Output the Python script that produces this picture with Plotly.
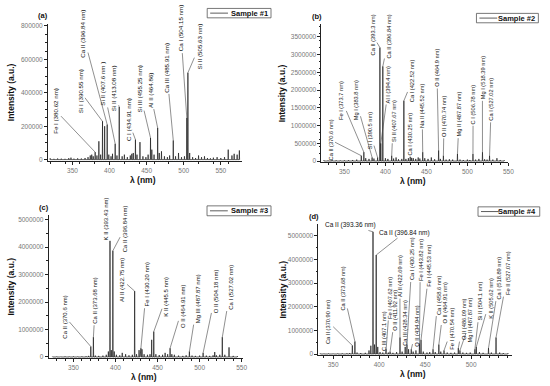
import plotly.graph_objects as go

W, H = 550, 386

# ---------------- data: peak wavelengths (nm) and intensities (a.u.) ----------------
wl_1 = [320, 325, 330, 335, 340, 345, 348, 352, 357, 362, 367, 371, 374, 376, 378, 380.62, 383, 385.6, 388,
        390.55, 393.4, 396.84, 399, 402, 404, 407.6, 410, 413.08, 417, 420, 424, 428, 430, 432, 434.91, 437,
        441, 445, 449, 452, 455.25, 457, 460, 464.86, 467, 470, 474, 478, 481, 485.91, 489, 493, 497, 501,
        504.15, 505.63, 508, 512, 516, 520, 524, 528, 532, 536, 540, 545, 550, 555, 560, 565, 568, 572, 575]
int_1 = [8000, 5000, 7000, 6000, 5000, 9000, 12000, 6000, 8000, 7000, 10000, 15000, 25000, 30000, 20000, 45000,
         25000, 110000, 30000, 230000, 200000, 210000, 30000, 20000, 35000, 95000, 25000, 315000, 20000, 30000,
         15000, 25000, 35000, 40000, 120000, 30000, 105000, 20000, 15000, 30000, 130000, 60000, 30000, 190000,
         40000, 50000, 20000, 15000, 25000, 115000, 20000, 40000, 15000, 20000, 250000, 520000, 40000, 15000,
         10000, 25000, 15000, 20000, 10000, 8000, 12000, 15000, 10000, 15000, 60000, 25000, 35000, 30000, 55000]

wl_2 = [325, 330, 335, 340, 345, 350, 355, 360, 365, 370.6, 373.7, 376, 380, 383.8, 386, 390.5, 393.3, 394.4,
        396.84, 400, 403, 407.67, 410, 413, 416, 420, 422.52, 425, 428, 430.25, 432, 434, 437, 440, 442, 445.52,
        448, 452, 456, 460, 464.9, 467, 470.74, 474, 478, 482, 487.87, 491, 495, 500, 503, 506.78, 510, 514,
        518.39, 521, 524, 527.02, 531, 536, 540, 545]
int_2 = [20000, 15000, 25000, 20000, 15000, 20000, 25000, 30000, 40000, 150000, 250000, 80000, 60000, 100000,
         70000, 100000, 3200000, 500000, 2670000, 80000, 60000, 150000, 70000, 100000, 50000, 60000, 1700000,
         60000, 80000, 120000, 90000, 80000, 60000, 100000, 70000, 250000, 80000, 60000, 100000, 50000, 300000,
         60000, 150000, 40000, 50000, 40000, 200000, 40000, 30000, 40000, 30000, 200000, 40000, 60000, 250000,
         50000, 40000, 150000, 40000, 80000, 30000, 20000]

wl_3 = [325, 330, 335, 340, 345, 350, 355, 360, 365, 368, 370.6, 373.68, 376, 380, 385, 389, 391.5, 393.43, 395,
        396.84, 398.5, 401, 405, 408, 412, 416, 420, 422.75, 425, 428, 429.5, 430.2, 431.5, 434, 438, 441, 443,
        445.5, 448, 452, 456, 459, 462, 464.91, 467, 470, 475, 480, 484, 487.87, 491, 495, 500, 504.18, 508,
        512, 516, 518, 520, 524, 527.02, 530, 535, 540, 545]
int_3 = [10000, 15000, 10000, 20000, 15000, 20000, 15000, 20000, 25000, 40000, 380000, 720000, 50000, 40000,
         50000, 80000, 200000, 4230000, 250000, 3870000, 200000, 80000, 60000, 150000, 100000, 60000, 80000,
         2400000, 100000, 250000, 300000, 320000, 280000, 100000, 80000, 100000, 625000, 925000, 100000, 70000,
         80000, 150000, 100000, 320000, 100000, 80000, 50000, 40000, 60000, 200000, 50000, 40000, 50000, 150000,
         50000, 40000, 60000, 180000, 60000, 80000, 720000, 80000, 350000, 40000, 30000]

wl_4 = [336, 340, 345, 350, 355, 360, 365, 368, 370.9, 373.68, 376, 380, 385, 389, 391, 393.36, 395, 396.84,
        398.5, 401, 404, 407.1, 407.62, 410, 411.92, 415, 419, 422.69, 425, 428.34, 430.25, 432, 434.94, 437,
        440, 443.82, 445.53, 448, 452, 455, 458.6, 461, 464.91, 467, 470.54, 474, 478, 482, 486.09, 487.87,
        491, 495, 499, 504.1, 505.62, 509, 513, 518.89, 522, 527.07, 531, 535, 540]
int_4 = [20000, 15000, 20000, 15000, 20000, 25000, 30000, 40000, 360000, 530000, 60000, 40000, 50000, 150000,
         350000, 5170000, 400000, 4190000, 300000, 80000, 60000, 120000, 200000, 60000, 100000, 50000, 80000,
         700000, 100000, 300000, 400000, 200000, 200000, 100000, 150000, 450000, 600000, 100000, 60000, 80000,
         200000, 80000, 400000, 100000, 150000, 60000, 50000, 60000, 250000, 150000, 60000, 50000, 60000,
         200000, 300000, 80000, 50000, 250000, 60000, 700000, 60000, 40000, 30000]

series_names = ["Sample #1", "Sample #2", "Sample #3", "Sample #4"]
panel_tags = ["(a)", "(b)", "(c)", "(d)"]

x_ticks = [[350, 400, 450, 500, 550], [350, 400, 450, 500, 550], [350, 400, 450, 500, 550], [350, 400, 450, 500]]
y_ticks = [[0, 200000, 400000, 600000, 800000],
           [0, 500000, 1000000, 1500000, 2000000, 2500000, 3000000, 3500000],
           [0, 1000000, 2000000, 3000000, 4000000, 5000000],
           [0, 1000000, 2000000, 3000000, 4000000, 5000000]]

# labels: text, target wavelength, target intensity, label-centre wavelength, label-centre intensity
labels_1 = [
    ("Fe I (380.62 nm)", 380.62, 45000, 327.8, 292000),
    ("Si I (390.55 nm)", 390.55, 229000, 360.2, 410000),
    ("Ca II (396.84 nm)", 396.84, 210000, 364.2, 753000),
    ("Si II (407.6 nm )", 407.6, 95000, 390.9, 453000),
    ("Si II (413.08 nm)", 413.08, 315000, 405.6, 426000),
    ("C I (434.91 nm)", 434.91, 120000, 424.7, 242000),
    ("Si III (455.25 nm)", 455.25, 130000, 439.8, 420000),
    ("Al II (464.86)", 464.86, 190000, 454.4, 416000),
    ("Ca III (485.91 nm)", 485.91, 115000, 476.7, 552000),
    ("Ca I (504.15 nm)", 504.15, 250000, 495.8, 784000),
    ("Si II (505.63 nm)", 505.63, 520000, 521.1, 680000),
]
labels_2 = [
    ("Ca II (370.6 nm)", 370.6, 150000, 333.1, 596000),
    ("Fe I (373.7 nm)", 373.7, 250000, 346.8, 1713000),
    ("Mg I (383.8 nm)", 383.8, 100000, 364.1, 1713000),
    ("Si I (390.5 nm)", 390.5, 100000, 380.6, 857000),
    ("Ca II (393.3 nm)", 393.3, 3200000, 384.2, 3557000),
    ("Ca II (396.84 nm)", 396.84, 2670000, 404.3, 3510000),
    ("Al I (394.4 nm)", 394.4, 500000, 404.3, 2160000),
    ("Si II (407.67 nm)", 407.67, 150000, 409.6, 1136000),
    ("Ca I (422.52 nm)", 422.52, 1700000, 432.5, 2253000),
    ("Ca I (430.25 nm)", 430.25, 120000, 430.6, 763000),
    ("Na II (445.52 nm)", 445.52, 250000, 444.7, 1555000),
    ("O II (464.9 nm)", 464.9, 300000, 462.8, 2625000),
    ("O II (470.74 nm)", 470.74, 150000, 471.6, 1276000),
    ("Mg II (487.87 nm)", 487.87, 200000, 490.1, 1322000),
    ("C I (506.78 nm)", 506.78, 200000, 507.0, 1601000),
    ("Mg I (518.39 nm)", 518.39, 250000, 518.3, 2346000),
    ("Ca I (527.02 nm)", 527.02, 150000, 529.2, 1741000),
]
labels_3 = [
    ("Ca II (370.6 nm)", 370.6, 380000, 339.8, 1466000),
    ("Ca II (373.68 nm)", 373.68, 720000, 376.3, 2067000),
    ("K II (393.43 nm)", 393.43, 4230000, 388.8, 5012000),
    ("Ca II (396.84 nm)", 396.84, 3870000, 410.8, 4675000),
    ("Al II (422.75 nm)", 422.75, 2400000, 408.4, 2788000),
    ("Fe I (430.20 nm)", 430.2, 320000, 437.1, 2632000),
    ("K II (445.5 nm)", 445.5, 925000, 460.6, 2211000),
    ("O II (464.91 nm)", 464.91, 320000, 480.2, 1851000),
    ("Mg III (487.87 nm)", 487.87, 200000, 497.8, 2127000),
    ("O II (504.18 nm)", 504.18, 150000, 519.4, 2392000),
    ("Ca I (527.02 nm)", 527.02, 720000, 537.1, 2548000),
]
labels_4 = [
    ("Ca II (393.36 nm)", 393.36, 5170000, 368.5, 5461000),
    ("Ca II (396.84 nm)", 396.84, 4190000, 427.6, 5140000),
    ("Ca II (370.90 nm)", 370.9, 360000, 345.2, 1341000),
    ("Ca II (373.68 nm)", 373.68, 530000, 360.6, 2765000),
    ("C III (407.1 nm)", 407.1, 120000, 405.4, 978000),
    ("Fe I (407.62 nm)", 407.62, 200000, 411.8, 2374000),
    ("O II (411.92 nm)", 411.92, 100000, 417.9, 1857000),
    ("Al II (422.69 nm)", 422.69, 700000, 422.6, 3296000),
    ("Ca III (428.34 nm)", 428.34, 300000, 428.7, 1299000),
    ("Ca I (430.25 nm)", 430.25, 400000, 435.8, 4022000),
    ("O II (434.94 nm)", 434.94, 200000, 441.2, 1201000),
    ("Fe I (443.82 nm)", 443.82, 450000, 444.8, 3994000),
    ("Fe I (445.53 nm)", 445.53, 600000, 454.8, 3715000),
    ("Ca I (458.6 nm)", 458.6, 200000, 464.5, 2514000),
    ("O II (464.91 nm)", 464.91, 400000, 470.6, 2179000),
    ("Fe I (470.54 nm)", 470.54, 150000, 478.9, 1061000),
    ("O II (486.09 nm)", 486.09, 250000, 492.1, 1480000),
    ("Mg II (487.87 nm)", 487.87, 150000, 499.3, 1438000),
    ("Si II (504.1 nm)", 504.1, 200000, 510.0, 2235000),
    ("K II (505.62 nm)", 505.62, 300000, 520.8, 2346000),
    ("Ca I (518.89 nm)", 518.89, 250000, 530.8, 3212000),
    ("Fe II (527.07 nm)", 527.07, 700000, 539.8, 3422000),
]
horizontal_4 = {"Ca II (393.36 nm)", "Ca II (396.84 nm)"}

# ---------------- layout geometry (pixels) ----------------
plot_px = [  # left, right, top, bottom
    (48.5, 245, 22, 160.5),
    (325, 514, 22.7, 162),
    (49.3, 246, 215.7, 359.7),
    (322, 518, 224.7, 356.7),
]
x_ranges = [[317, 579], [322, 550], [320.6, 552], [334.1, 544.8]]
y_ranges = [[-7000, 813000], [-36000, 3852000], [-36000, 5155000], [-42000, 5486000]]
legend_px = [  # box l, r, t, b
    (209.5, 274, 6.5, 16),
    (481.7, 544.3, 11.5, 21),
    (209.3, 274, 206, 216),
    (483.3, 545.7, 207, 216.5),
]
label_font = [6.2, 5.7, 6.0, 5.7]

FONT = "Liberation Sans, Arial, sans-serif"


def px_x(v):
    return v / W


def px_y(v):
    return 1 - v / H


def sticks(wl, inten):
    xs, ys = [], []
    for w, v in sorted(zip(wl, inten)):
        xs += [w - 0.3, w, w + 0.3]
        ys += [0, v, 0]
    return xs, ys


fig = go.Figure()
layout = dict(
    width=W, height=H, margin=dict(l=0, r=0, t=0, b=0),
    paper_bgcolor="white", plot_bgcolor="white", showlegend=False,
    font=dict(family=FONT, color="#222"),
)
annotations = []
shapes = []

all_wl = [wl_1, wl_2, wl_3, wl_4]
all_int = [int_1, int_2, int_3, int_4]
all_labels = [labels_1, labels_2, labels_3, labels_4]

for i in range(4):
    xa = "x" if i == 0 else f"x{i+1}"
    ya = "y" if i == 0 else f"y{i+1}"
    xkey = "xaxis" if i == 0 else f"xaxis{i+1}"
    ykey = "yaxis" if i == 0 else f"yaxis{i+1}"
    l, r, t, b = plot_px[i]
    xs, ys = sticks(all_wl[i], all_int[i])
    fig.add_trace(go.Scatter(x=xs, y=ys, mode="lines", name=series_names[i],
                             line=dict(color="#1a1a1a", width=0.7), xaxis=xa, yaxis=ya))
    axcommon = dict(showgrid=False, zeroline=False, showline=True, linecolor="#222", linewidth=1,
                    ticks="outside", ticklen=3, tickwidth=0.8, tickcolor="#222",
                    tickfont=dict(size=6.5, color="#777", family=FONT),
                    minor=dict(ticks="outside", ticklen=1.8, tickwidth=0.6, tickcolor="#222"))
    layout[xkey] = dict(axcommon, domain=[px_x(l), px_x(r)], range=x_ranges[i], anchor=ya,
                        tickvals=x_ticks[i], ticktext=[str(v) for v in x_ticks[i]])
    layout[ykey] = dict(axcommon, domain=[px_y(b), px_y(t)], range=y_ranges[i], anchor=xa,
                        tickvals=y_ticks[i], ticktext=[str(v) for v in y_ticks[i]])

    # axis titles
    annotations.append(dict(xref="paper", yref="paper", x=px_x(11 if i in (0, 2) else 286),
                            y=px_y((t + b) / 2), xanchor="center", yanchor="middle",
                            text="<b>Intensity (a.u.)</b>", textangle=-90,
                            showarrow=False, font=dict(size=8.5, color="#111")))
    annotations.append(dict(xref="paper", yref="paper", x=px_x((l + r) / 2 - 2), y=px_y(b + 19),
                            xanchor="center", yanchor="middle",
                            text="<b>λ (nm)</b>", showarrow=False, font=dict(size=8.5, color="#111")))
    # panel tag
    annotations.append(dict(xref="paper", yref="paper", x=px_x(l - 5), y=px_y(t - 8),
                            xanchor="center", yanchor="middle",
                            text=f"<b>{panel_tags[i]}</b>", showarrow=False,
                            font=dict(size=7.5, color="#111")))
    # legend box
    bl, br, bt, bb = legend_px[i]
    shapes.append(dict(type="rect", xref="paper", yref="paper", x0=px_x(bl), x1=px_x(br),
                       y0=px_y(bb), y1=px_y(bt), line=dict(color="#555", width=0.8),
                       fillcolor="white"))
    shapes.append(dict(type="line", xref="paper", yref="paper", x0=px_x(bl + 3), x1=px_x(bl + 21),
                       y0=px_y((bt + bb) / 2), y1=px_y((bt + bb) / 2),
                       line=dict(color="#333", width=0.8)))
    annotations.append(dict(xref="paper", yref="paper", x=px_x(br - 1.5), y=px_y((bt + bb) / 2),
                            xanchor="right", yanchor="middle", text=f"<b>{series_names[i]}</b>",
                            showarrow=False, font=dict(size=7.5, color="#111")))

    # peak labels
    for (txt, tw, tv, lw, lv) in all_labels[i]:
        horiz = (i == 3 and txt in horizontal_4)
        annotations.append(dict(
            x=tw, y=tv, ax=lw, ay=lv, xref=xa, yref=ya, axref=xa, ayref=ya,
            text=txt, textangle=0 if horiz else -90, showarrow=True, arrowhead=0,
            arrowwidth=0.6, arrowcolor="#444", standoff=0, startstandoff=0,
            font=dict(size=6.5 if horiz else label_font[i], color="#111", family=FONT)))

layout["annotations"] = annotations
layout["shapes"] = shapes
fig.update_layout(**layout)
fig.write_html("out.html", config={"displayModeBar": False},
               post_script="document.body.style.margin='0';")
